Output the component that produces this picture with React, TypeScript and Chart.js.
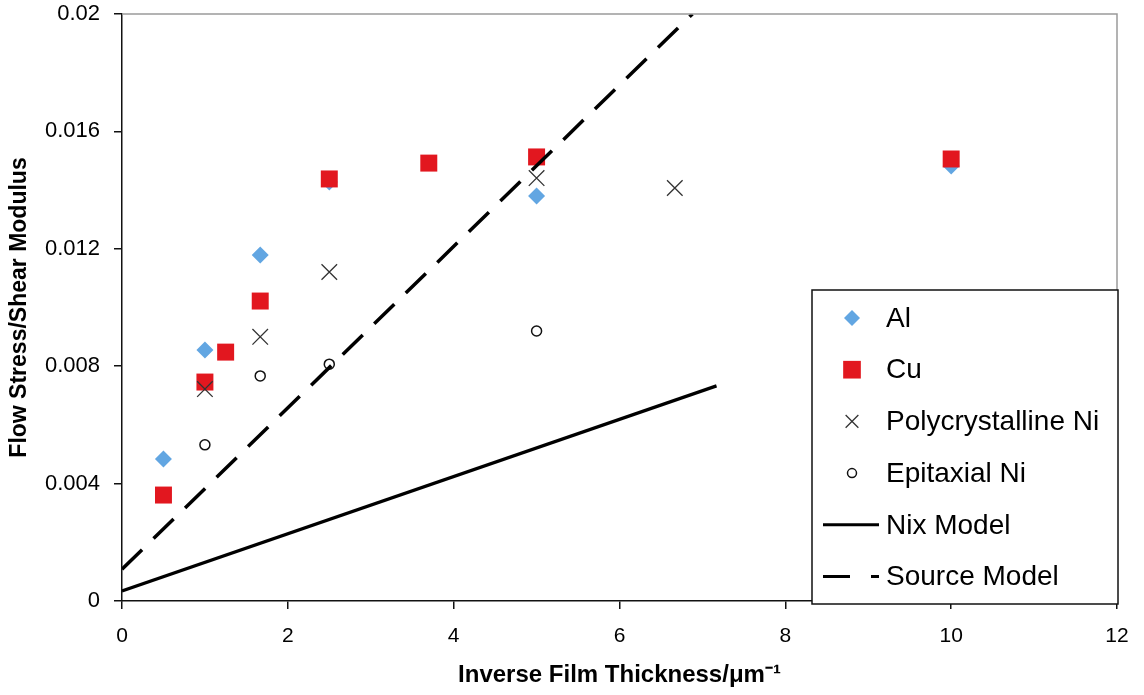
import React, { useEffect, useRef } from "react";
import { Chart, registerables } from "chart.js";

Chart.register(...registerables);

const xTicks = [0, 2, 4, 6, 8, 10, 12];
const yTicks = [0, 0.004, 0.008, 0.012, 0.016, 0.02];

const alX = [0.5, 1.0, 1.667, 2.5, 5, 10];
const alY = [0.00484, 0.00855, 0.01179, 0.01428, 0.0138, 0.01482];

const cuX = [0.5, 1.0, 1.25, 1.667, 2.5, 3.7, 5, 10];
const cuY = [0.00361, 0.00746, 0.00848, 0.01022, 0.01438, 0.01492, 0.01513, 0.01506];

const polyX = [1.0, 1.667, 2.5, 5, 6.667];
const polyY = [0.00722, 0.009, 0.01121, 0.01441, 0.01407];

const epiX = [1.0, 1.667, 2.5, 5];
const epiY = [0.00532, 0.00767, 0.00807, 0.0092];

const nixX = [0, 7.17];
const nixY = [0.00034, 0.00733];

const sourceX = [0, 6.88];
const sourceY = [0.00108, 0.02];

const labels = ["Al", "Cu", "Polycrystalline Ni", "Epitaxial Ni", "Nix Model", "Source Model"];

const BLUE = "#62A6E2";
const RED = "#E2171F";
const FONT = "'Liberation Sans', Arial, Helvetica, sans-serif";

const pts = (xs: number[], ys: number[]) => xs.map((x, i) => ({ x, y: ys[i] }));

function drawMarker(ctx: CanvasRenderingContext2D, style: string, r: number, x: number, y: number, fill: string, stroke: string, lw: number) {
  ctx.save();
  ctx.fillStyle = fill;
  ctx.strokeStyle = stroke;
  ctx.lineWidth = lw;
  ctx.beginPath();
  if (style === "rectRot") {
    ctx.moveTo(x, y - r);
    ctx.lineTo(x + r, y);
    ctx.lineTo(x, y + r);
    ctx.lineTo(x - r, y);
    ctx.closePath();
    ctx.fill();
  } else if (style === "rect") {
    const s = Math.SQRT1_2 * r;
    ctx.rect(x - s, y - s, 2 * s, 2 * s);
    ctx.fill();
  } else if (style === "crossRot") {
    const d = Math.SQRT1_2 * r;
    ctx.moveTo(x - d, y - d);
    ctx.lineTo(x + d, y + d);
    ctx.moveTo(x - d, y + d);
    ctx.lineTo(x + d, y - d);
    ctx.stroke();
  } else {
    ctx.arc(x, y, r, 0, Math.PI * 2);
    ctx.fill();
    ctx.stroke();
  }
  ctx.restore();
}

const legendPlugin = {
  id: "boxLegend",
  afterDraw(chart: any) {
    const ctx = chart.ctx;
    const area = chart.chartArea;
    const left = area.left + 690;
    const top = area.top + 276;
    const right = area.right + 1;
    const bottom = area.bottom + 3;
    ctx.save();
    ctx.fillStyle = "#fff";
    ctx.fillRect(left, top, right - left, bottom - top);
    ctx.strokeStyle = "#111";
    ctx.lineWidth = 1.5;
    ctx.strokeRect(left, top, right - left, bottom - top);
    const rowH = 51.7;
    const firstY = top + 28;
    const markerX = left + 40;
    const textX = left + 74;
    ctx.font = `28px ${FONT}`;
    ctx.textBaseline = "middle";
    ctx.textAlign = "left";
    chart.data.datasets.forEach((ds: any, i: number) => {
      const y = firstY + i * rowH;
      if (ds.showLine) {
        ctx.save();
        ctx.strokeStyle = "#000";
        ctx.lineWidth = 3;
        ctx.setLineDash(ds.borderDash && ds.borderDash.length ? [27, 21] : []);
        ctx.beginPath();
        ctx.moveTo(left + 11, y);
        ctx.lineTo(left + 67, y);
        ctx.stroke();
        ctx.restore();
      } else {
        drawMarker(ctx, ds.pointStyle, ds.legendRadius, markerX, y, ds.pointBackgroundColor, ds.pointBorderColor, ds.pointBorderWidth);
      }
      ctx.fillStyle = "#000";
      ctx.fillText(ds.label, textX, y + 1);
    });
    ctx.restore();
  },
};

const framePlugin = {
  id: "frame",
  afterDraw(chart: any) {
    const ctx = chart.ctx;
    const a = chart.chartArea;
    ctx.save();
    ctx.strokeStyle = "#9a9a9a";
    ctx.lineWidth = 1.5;
    ctx.beginPath();
    ctx.moveTo(a.left, a.top);
    ctx.lineTo(a.right, a.top);
    ctx.lineTo(a.right, a.bottom);
    ctx.stroke();
    ctx.restore();
  },
};

export default function App() {
  const ref = useRef<HTMLCanvasElement>(null);
  useEffect(() => {
    document.body.style.margin = "0";
    const chart = new Chart(ref.current!, {
      type: "scatter",
      data: {
        datasets: [
          {
            label: labels[0],
            data: pts(alX, alY),
            pointStyle: "rectRot",
            pointRadius: 8.5,
            pointBackgroundColor: BLUE,
            pointBorderColor: BLUE,
            pointBorderWidth: 0,
            legendRadius: 8,
            order: 4,
          },
          {
            label: labels[1],
            data: pts(cuX, cuY),
            pointStyle: "rect",
            pointRadius: 12,
            pointBackgroundColor: RED,
            pointBorderColor: RED,
            pointBorderWidth: 0,
            legendRadius: 12.5,
            order: 3,
          },
          {
            label: labels[2],
            data: pts(polyX, polyY),
            pointStyle: "crossRot",
            pointRadius: 11,
            pointBackgroundColor: "#333",
            pointBorderColor: "#333",
            pointBorderWidth: 1.3,
            legendRadius: 9,
            order: 2,
          },
          {
            label: labels[3],
            data: pts(epiX, epiY),
            pointStyle: "circle",
            pointRadius: 5,
            pointBackgroundColor: "#fff",
            pointBorderColor: "#111",
            pointBorderWidth: 1.5,
            legendRadius: 4.5,
            order: 1,
          },
          {
            label: labels[4],
            data: pts(nixX, nixY),
            showLine: true,
            borderColor: "#000",
            borderWidth: 3.2,
            pointRadius: 0,
            order: 0,
          },
          {
            label: labels[5],
            data: pts(sourceX, sourceY),
            showLine: true,
            borderColor: "#000",
            borderWidth: 3.5,
            borderDash: [28, 16],
            pointRadius: 0,
            order: 0,
          },
        ],
      },
      options: {
        responsive: false,
        animation: false,
        layout: { padding: { top: 14, right: 27, left: 0, bottom: 0 } },
        plugins: { legend: { display: false }, tooltip: { enabled: false } },
        scales: {
          x: {
            type: "linear",
            min: 0,
            max: 12,
            afterFit: (s: any) => { s.height = 94; s.paddingLeft = 0; s.paddingRight = 0; },
            afterBuildTicks: (s: any) => { s.ticks = xTicks.map((v) => ({ value: v })); },
            border: { color: "#111", width: 1.5 },
            grid: { drawOnChartArea: false, drawTicks: true, tickLength: 8, color: "#111", lineWidth: 1.5 },
            ticks: { color: "#000", padding: 15, font: { family: FONT, size: 21 } },
            title: {
              display: true,
              text: "Inverse Film Thickness/μm⁻¹",
              color: "#000",
              font: { family: FONT, size: 24, weight: "bold" },
              padding: { top: 0, bottom: 5 },
            },
          },
          y: {
            type: "linear",
            min: 0,
            max: 0.02,
            afterFit: (s: any) => { s.width = 122; s.paddingTop = 0; s.paddingBottom = 0; },
            afterBuildTicks: (s: any) => { s.ticks = yTicks.map((v) => ({ value: v })); },
            border: { color: "#111", width: 1.5 },
            grid: { drawOnChartArea: false, drawTicks: true, tickLength: 8, color: "#111", lineWidth: 1.5 },
            ticks: {
              color: "#000",
              padding: 14,
              font: { family: FONT, size: 22 },
              callback: (v: any) => String(Number(Number(v).toFixed(3))),
            },
            title: {
              display: true,
              text: "Flow Stress/Shear Modulus",
              color: "#000",
              font: { family: FONT, size: 23, weight: "bold" },
              padding: { top: 6, bottom: 0 },
            },
          },
        },
      },
      plugins: [framePlugin, legendPlugin],
    } as any);
    return () => chart.destroy();
  }, []);
  return (
    <div style={{ width: 1144, height: 695 }}>
      <canvas ref={ref} width={1144} height={695} />
    </div>
  );
}
